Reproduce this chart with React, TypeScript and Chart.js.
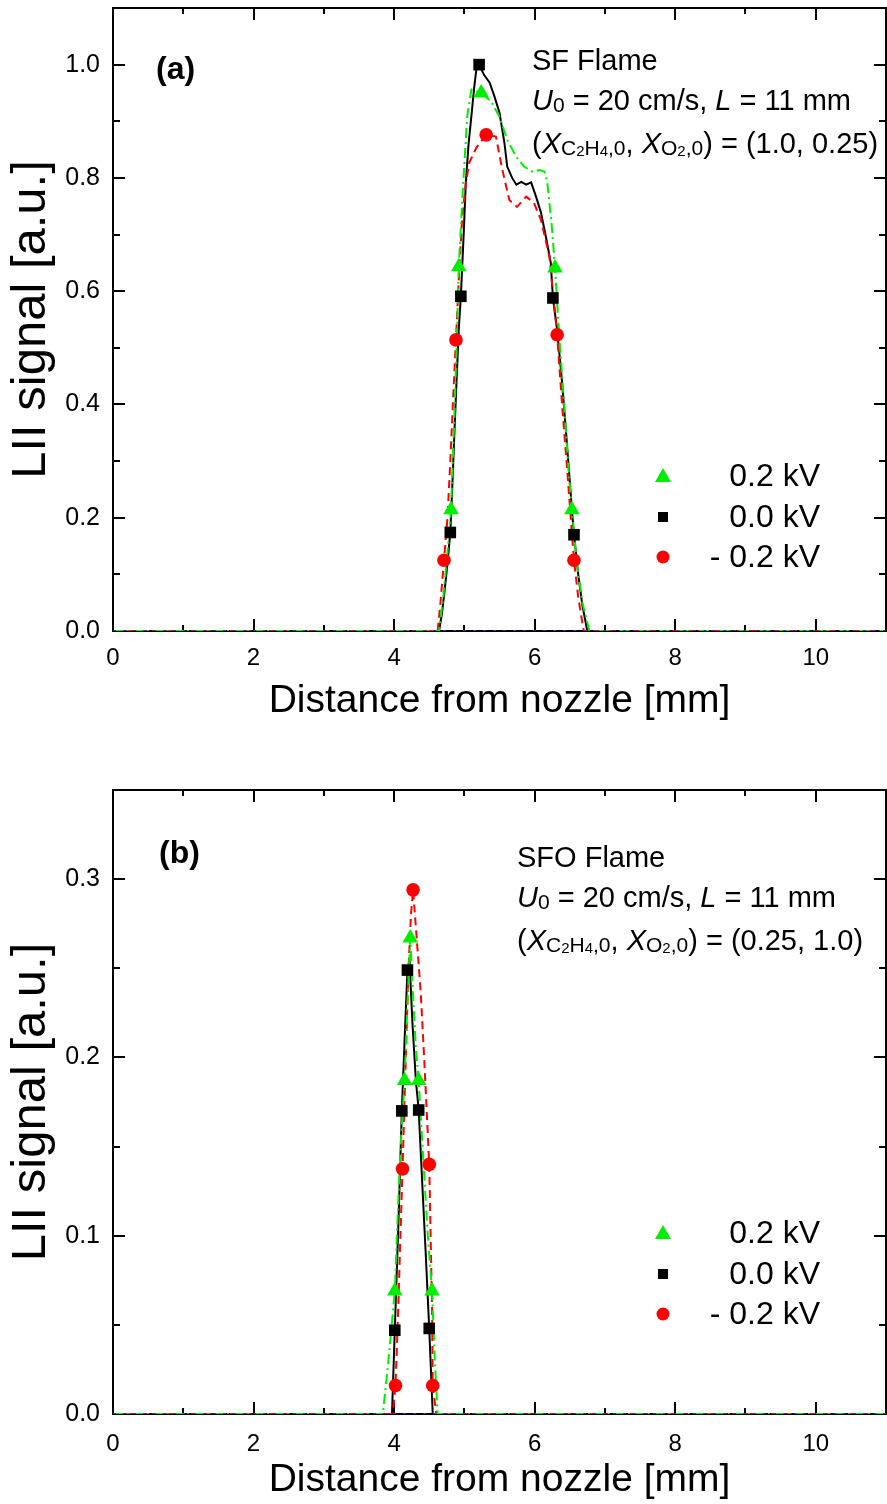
import React, { useEffect, useRef } from 'react';
import { Chart, registerables } from 'chart.js';

Chart.register(...registerables);

const FONT = "'Liberation Sans', Arial, Helvetica, sans-serif";

// ---------------- Panel (a): SF flame ----------------
const aBlackX = [0, 4.55, 4.64, 4.68, 4.72, 4.76, 4.80, 4.83, 4.86, 4.89, 4.92, 4.95, 4.99, 5.02, 5.06, 5.10, 5.14, 5.17, 5.21, 5.28, 5.36, 5.43, 5.50, 5.57, 5.61, 5.68, 5.74, 5.81, 5.88, 5.95, 6.02, 6.09, 6.16, 6.23, 6.26, 6.32, 6.39, 6.46, 6.53, 6.56, 6.62, 6.68, 6.75, 11];
const aBlackY = [0, 0, 0, 0.03, 0.072, 0.12, 0.174, 0.26, 0.355, 0.445, 0.532, 0.591, 0.70, 0.79, 0.86, 0.909, 0.96, 0.991, 1.0, 0.982, 0.968, 0.943, 0.915, 0.862, 0.820, 0.800, 0.788, 0.793, 0.788, 0.792, 0.767, 0.739, 0.696, 0.650, 0.588, 0.532, 0.44, 0.33, 0.215, 0.170, 0.10, 0.045, 0, 0];
const aBlackMarkX = [4.80, 4.95, 5.21, 6.26, 6.56];
const aBlackMarkY = [0.174, 0.591, 1.0, 0.588, 0.170];

const aGreenX = [0, 4.64, 4.70, 4.76, 4.81, 4.85, 4.89, 4.92, 4.97, 5.04, 5.10, 5.24, 5.38, 5.50, 5.61, 5.74, 5.85, 5.97, 6.07, 6.14, 6.18, 6.24, 6.29, 6.35, 6.42, 6.48, 6.53, 6.60, 6.68, 6.78, 11];
const aGreenY = [0, 0, 0.06, 0.14, 0.214, 0.35, 0.50, 0.643, 0.761, 0.908, 0.956, 0.950, 0.935, 0.908, 0.867, 0.837, 0.820, 0.811, 0.814, 0.811, 0.792, 0.721, 0.641, 0.52, 0.40, 0.29, 0.214, 0.12, 0.05, 0, 0];
const aGreenMarkX = [4.81, 4.92, 5.24, 6.29, 6.53];
const aGreenMarkY = [0.214, 0.643, 0.950, 0.641, 0.214];

const aRedX = [0, 4.62, 4.66, 4.71, 4.76, 4.80, 4.84, 4.88, 4.92, 4.97, 5.02, 5.07, 5.17, 5.31, 5.45, 5.53, 5.64, 5.75, 5.88, 5.99, 6.09, 6.21, 6.32, 6.39, 6.46, 6.52, 6.56, 6.62, 6.68, 6.70, 11];
const aRedY = [0, 0, 0.05, 0.125, 0.2, 0.30, 0.41, 0.514, 0.62, 0.731, 0.79, 0.827, 0.853, 0.876, 0.873, 0.820, 0.761, 0.749, 0.767, 0.756, 0.726, 0.661, 0.523, 0.40, 0.29, 0.19, 0.125, 0.06, 0.014, 0, 0];
const aRedMarkX = [4.71, 4.88, 5.31, 6.32, 6.56];
const aRedMarkY = [0.125, 0.514, 0.876, 0.523, 0.125];

// ---------------- Panel (b): SFO flame ----------------
const bBlackX = [0, 3.97, 4.01, 4.06, 4.11, 4.15, 4.19, 4.22, 4.26, 4.31, 4.35, 4.40, 4.45, 4.50, 4.55, 11];
const bBlackY = [0, 0, 0.047, 0.105, 0.170, 0.21, 0.249, 0.2545, 0.22, 0.187, 0.1705, 0.13, 0.09, 0.048, 0, 0];
const bBlackMarkX = [4.01, 4.11, 4.19, 4.35, 4.50];
const bBlackMarkY = [0.047, 0.170, 0.249, 0.1705, 0.048];

const bGreenX = [0, 3.84, 3.92, 4.01, 4.06, 4.10, 4.15, 4.19, 4.23, 4.27, 4.31, 4.35, 4.42, 4.48, 4.54, 4.58, 4.62, 11];
const bGreenY = [0, 0, 0.03, 0.069, 0.12, 0.155, 0.187, 0.23, 0.267, 0.235, 0.205, 0.187, 0.14, 0.10, 0.069, 0.03, 0, 0];
const bGreenMarkX = [4.01, 4.15, 4.23, 4.35, 4.54];
const bGreenMarkY = [0.069, 0.187, 0.267, 0.187, 0.069];

const bRedX = [0, 3.98, 4.02, 4.06, 4.09, 4.12, 4.16, 4.20, 4.24, 4.27, 4.31, 4.38, 4.43, 4.47, 4.50, 4.52, 4.54, 4.55, 4.60, 11];
const bRedY = [0, 0, 0.016, 0.06, 0.10, 0.1375, 0.19, 0.245, 0.28, 0.294, 0.273, 0.236, 0.198, 0.165, 0.140, 0.10, 0.06, 0.016, 0, 0];
const bRedMarkX = [4.02, 4.12, 4.27, 4.50, 4.55];
const bRedMarkY = [0.016, 0.1375, 0.294, 0.140, 0.016];

const baselineX = [0, 11];
const baselineY = [0, 0];

const xAxisTitle = 'Distance from nozzle [mm]';
const yAxisTitle = 'LII signal [a.u.]';
const legendLabels = ['0.2 kV', '0.0 kV', '- 0.2 kV'];

const GREEN = '#00ee00';
const RED = '#ff0000';
const BLACK = '#000000';
const BLUE = '#2233dd';

const pts = (xs: number[], ys: number[]) => xs.map((x, i) => ({ x, y: ys[i] }));

type Run = { t: string; size: number; italic?: boolean; bold?: boolean; dy?: number };

function drawRuns(ctx: CanvasRenderingContext2D, runs: Run[], x: number, y: number) {
  let cx = x;
  ctx.textBaseline = 'alphabetic';
  ctx.textAlign = 'left';
  for (const r of runs) {
    ctx.font = `${r.italic ? 'italic ' : ''}${r.bold ? 'bold ' : ''}${r.size}px ${FONT}`;
    ctx.fillText(r.t, cx, y + (r.dy || 0));
    cx += ctx.measureText(r.t).width;
  }
}

type Panel = {
  tag: string;
  flame: string;
  comp: string;
  yMax: number;
  yStep: number;
  yMinor: number;
  topPad: number;
  xHeight: number;
  xTickPad: number;
  xTitlePad: number;
  tagY: number;
  tagX: number;
  annX: number;
  annY: number[];
  legY: number[];
  black: [number[], number[], number[], number[]];
  green: [number[], number[], number[], number[]];
  red: [number[], number[], number[], number[]];
};

const panelA: Panel = {
  tag: '(a)', flame: 'SF Flame', comp: ') = (1.0, 0.25)',
  yMax: 1.1, yStep: 0.2, yMinor: 0.1,
  topPad: 8, xHeight: 121, xTickPad: 13, xTitlePad: 27,
  tagX: 156, tagY: 79, annX: 532, annY: [70, 110, 153], legY: [476, 517, 557],
  black: [aBlackX, aBlackY, aBlackMarkX, aBlackMarkY],
  green: [aGreenX, aGreenY, aGreenMarkX, aGreenMarkY],
  red: [aRedX, aRedY, aRedMarkX, aRedMarkY],
};

const panelB: Panel = {
  tag: '(b)', flame: 'SFO Flame', comp: ') = (0.25, 1.0)',
  yMax: 0.35, yStep: 0.1, yMinor: 0.05,
  topPad: 38, xHeight: 90, xTickPad: 16, xTitlePad: 0,
  tagX: 159, tagY: 111, annX: 517, annY: [115, 155, 198], legY: [481, 522, 562],
  black: [bBlackX, bBlackY, bBlackMarkX, bBlackMarkY],
  green: [bGreenX, bGreenY, bGreenMarkX, bGreenMarkY],
  red: [bRedX, bRedY, bRedMarkX, bRedMarkY],
};

function makeDecor(p: Panel) {
  return {
    id: 'decor',
    beforeDatasetsDraw(chart: any) {
      const ctx: CanvasRenderingContext2D = chart.ctx;
      const { left, right, top, bottom } = chart.chartArea;
      const xs = chart.scales.x;
      const ys = chart.scales.y;
      ctx.save();
      ctx.strokeStyle = '#000';
      ctx.lineWidth = 2;
      ctx.beginPath();
      for (let i = 0; i <= 11; i++) {
        const px = Math.round(xs.getPixelForValue(i));
        const len = i % 2 === 0 ? 12 : 6;
        ctx.moveTo(px, bottom); ctx.lineTo(px, bottom - len);
        ctx.moveTo(px, top); ctx.lineTo(px, top + len);
      }
      const nY = Math.round(p.yMax / p.yMinor);
      for (let j = 0; j <= nY; j++) {
        const v = j * p.yMinor;
        const py = Math.round(ys.getPixelForValue(v));
        const len = j % 2 === 0 ? 12 : 7;
        ctx.moveTo(left, py); ctx.lineTo(left + len, py);
        ctx.moveTo(right, py); ctx.lineTo(right - len, py);
      }
      ctx.stroke();
      ctx.strokeRect(left, top, right - left, bottom - top);
      ctx.restore();
    },
    afterDraw(chart: any) {
      const ctx: CanvasRenderingContext2D = chart.ctx;
      ctx.save();
      ctx.fillStyle = '#000';
      drawRuns(ctx, [{ t: p.tag, size: 32, bold: true }], p.tagX, p.tagY);
      drawRuns(ctx, [{ t: p.flame, size: 29 }], p.annX, p.annY[0]);
      drawRuns(ctx, [
        { t: 'U', size: 29, italic: true },
        { t: '0', size: 21, dy: 2 },
        { t: ' = 20 cm/s, ', size: 29 },
        { t: 'L', size: 29, italic: true },
        { t: ' = 11 mm', size: 29 },
      ], p.annX, p.annY[1]);
      drawRuns(ctx, [
        { t: '(', size: 29 },
        { t: 'X', size: 29, italic: true },
        { t: 'C', size: 21, dy: 2 },
        { t: '2', size: 15, dy: 3 },
        { t: 'H', size: 21, dy: 2 },
        { t: '4', size: 15, dy: 3 },
        { t: ',0', size: 21, dy: 2 },
        { t: ', ', size: 29 },
        { t: 'X', size: 29, italic: true },
        { t: 'O', size: 21, dy: 2 },
        { t: '2', size: 15, dy: 3 },
        { t: ',0', size: 21, dy: 2 },
        { t: p.comp, size: 29 },
      ], p.annX, p.annY[2]);

      const mx = 663;
      ctx.fillStyle = GREEN;
      ctx.beginPath();
      ctx.moveTo(mx, p.legY[0] - 8);
      ctx.lineTo(mx + 8, p.legY[0] + 6);
      ctx.lineTo(mx - 8, p.legY[0] + 6);
      ctx.closePath();
      ctx.fill();
      ctx.fillStyle = BLACK;
      ctx.fillRect(mx - 5, p.legY[1] - 5, 10, 10);
      ctx.fillStyle = RED;
      ctx.beginPath();
      ctx.arc(mx, p.legY[2], 6.5, 0, Math.PI * 2);
      ctx.fill();
      ctx.fillStyle = '#000';
      ctx.font = `32px ${FONT}`;
      ctx.textAlign = 'right';
      ctx.textBaseline = 'middle';
      legendLabels.forEach((t, i) => ctx.fillText(t, 820, p.legY[i] + 1));
      ctx.restore();
    },
  };
}

function lineDs(label: string, xs: number[], ys: number[], color: string, dash: number[]) {
  return {
    type: 'line' as const,
    label,
    data: pts(xs, ys),
    borderColor: color,
    backgroundColor: color,
    borderWidth: 2,
    borderDash: dash,
    pointRadius: 0,
    fill: false,
    tension: 0,
  };
}

function markDs(label: string, xs: number[], ys: number[], color: string, style: string, r: number) {
  return {
    type: 'line' as const,
    label,
    data: pts(xs, ys),
    showLine: false,
    borderColor: color,
    backgroundColor: color,
    pointStyle: style,
    pointRadius: r,
    pointBorderWidth: 0,
    pointBorderColor: color,
    pointBackgroundColor: color,
  };
}

const zeroPad = (s: any) => {
  s.paddingTop = 0;
  s.paddingBottom = 0;
  s.paddingLeft = 0;
  s.paddingRight = 0;
};

function PanelChart({ p }: { p: Panel }) {
  const ref = useRef<HTMLCanvasElement | null>(null);
  useEffect(() => {
    if (!ref.current) return;
    const chart = new Chart(ref.current, {
      type: 'line',
      data: {
        datasets: [
          markDs('- 0.2 kV', p.red[2], p.red[3], RED, 'circle', 6.8),
          markDs('0.0 kV', p.black[2], p.black[3], BLACK, 'rect', 8.2),
          markDs('0.2 kV', p.green[2], p.green[3], GREEN, 'triangle', 9),
          lineDs('baseline', baselineX, baselineY, BLUE, [3, 7]),
          lineDs('0.2 kV line', p.green[0], p.green[1], GREEN, [10, 4, 2, 4]),
          lineDs('- 0.2 kV line', p.red[0], p.red[1], RED, [8, 5]),
          lineDs('0.0 kV line', p.black[0], p.black[1], BLACK, []),
        ] as any,
      },
      options: {
        animation: false,
        responsive: false,
        layout: { autoPadding: false, padding: { top: p.topPad, right: 1, bottom: 0, left: 0 } },
        plugins: { legend: { display: false }, tooltip: { enabled: false } },
        scales: {
          x: {
            type: 'linear',
            min: 0,
            max: 11,
            ticks: {
              stepSize: 2,
              includeBounds: false,
              autoSkip: false,
              maxRotation: 0,
              color: '#000',
              padding: p.xTickPad,
              font: { family: FONT, size: 24 },
            },
            grid: { display: false, drawTicks: false },
            border: { display: false },
            title: {
              display: true,
              text: xAxisTitle,
              color: '#000',
              font: { family: FONT, size: 39 },
              padding: { top: 0, bottom: p.xTitlePad },
            },
            afterFit: (s: any) => { s.height = p.xHeight; zeroPad(s); },
          },
          y: {
            type: 'linear',
            min: 0,
            max: p.yMax,
            ticks: {
              stepSize: p.yStep,
              includeBounds: false,
              color: '#000',
              padding: 13,
              font: { family: FONT, size: 25 },
              callback: (v: any) => Number(v).toFixed(1),
            },
            grid: { display: false, drawTicks: false },
            border: { display: false },
            title: {
              display: true,
              text: yAxisTitle,
              color: '#000',
              font: { family: FONT, size: 49 },
              padding: { top: 2, bottom: 0 },
            },
            afterFit: (s: any) => { s.width = 113; zeroPad(s); },
          },
        },
      } as any,
      plugins: [makeDecor(p)],
    });
    return () => chart.destroy();
  }, [p]);
  return <canvas ref={ref} width={887} height={752} style={{ display: 'block', width: 887, height: 752 }} />;
}

export default function App() {
  return (
    <div style={{ position: 'absolute', left: 0, top: 0, width: 887, height: 1504, background: '#fff' }}>
      <PanelChart p={panelA} />
      <PanelChart p={panelB} />
    </div>
  );
}
